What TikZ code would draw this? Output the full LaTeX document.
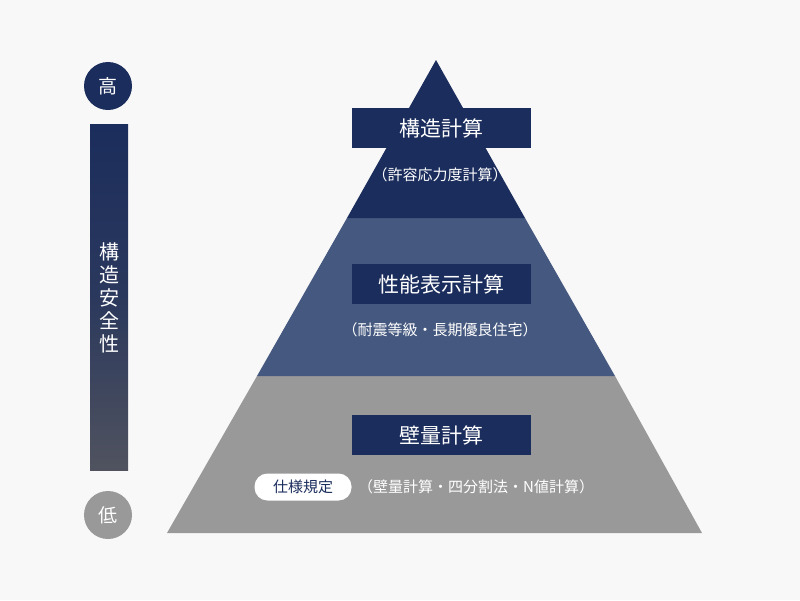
\documentclass[tikz,border=0pt]{standalone}
\usepackage{fontspec}
\setmainfont{Noto Sans CJK JP}
\begin{document}
\begin{tikzpicture}[x=1pt,y=-1pt,
  tier/.style={fill=navy,text=white,minimum width=179pt,minimum height=40pt,inner sep=0pt,font=\fontsize{21}{24}\selectfont},
  sub/.style={text=white,font=\fontsize{15}{18}\selectfont,inner sep=0pt},
  dot/.style={circle,minimum size=48pt,inner sep=0pt,text=white,font=\fontsize{19}{22}\selectfont}]
\definecolor{navy}{HTML}{1B2D5C}
\definecolor{midb}{HTML}{45587F}
\definecolor{grayt}{HTML}{999999}
\definecolor{bg}{HTML}{F8F8F8}
\definecolor{barbot}{HTML}{50535F}
\fill[bg] (0,0) rectangle (800,600);
\useasboundingbox (0,0) rectangle (800,600);
\fill[grayt] (257,376) -- (615,376) -- (702,533) -- (167,533) -- cycle;
\fill[midb] (347,218) -- (525,218) -- (615,376) -- (257,376) -- cycle;
\fill[navy] (436,60) -- (525,218) -- (347,218) -- cycle;
\node[tier] (t1) at (441,128) {構造計算};
\node[sub] (s1) at (440,175) {（許容応力度計算）};
\node[tier] (t2) at (441,284) {性能表示計算};
\node[sub] (s2) at (440,330) {（耐震等級・長期優良住宅）};
\node[tier] (t3) at (441,435) {壁量計算};
\node[fill=white,rounded corners=13pt,minimum width=97pt,minimum height=27pt,inner sep=0pt,text=navy,font=\fontsize{15}{18}\selectfont] (sp) at (303,487) {仕様規定};
\node[sub,anchor=west] (s3) at (358,487) {（壁量計算・四分割法・N値計算）};
\node[dot,fill=navy] (hi) at (108,86) {高};
\node[dot,fill=grayt] (lo) at (108,515) {低};
\shade[top color=navy,bottom color=barbot,middle color=navy!70!barbot] (90,124) rectangle (128,470);
\node[text=white,font=\fontsize{20}{23}\selectfont,align=center,inner sep=0pt] (lab) at (109,298) {構\\造\\安\\全\\性};
\end{tikzpicture}
\end{document}
